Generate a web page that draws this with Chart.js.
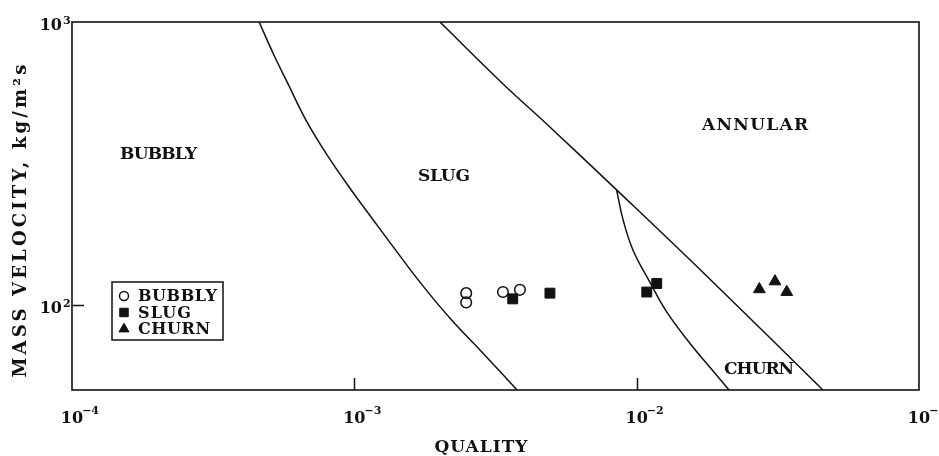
<!DOCTYPE html>
<html>
<head>
<meta charset="utf-8">
<script src="https://cdn.jsdelivr.net/npm/chart.js@4.4.1/dist/chart.umd.min.js"></script>
<style>
  html, body { margin: 0; padding: 0; background: #fff; }
  #chart { display: block; }
</style>
</head>
<body>
<canvas id="chart" width="939" height="456"></canvas>
<script>
// flow pattern map
var qualityTicks = [1e-4, 1e-3, 1e-2, 1e-1];
var qualityTickExp = ['-4', '-3', '-2', '-1'];
var velocityTicks = [1e2, 1e3];
var velocityTickExp = ['2', '3'];

// transition boundaries
var bubblySlugX = [4.6e-4, 5.15e-4, 5.8e-4, 6.74e-4, 7.93e-4, 9.58e-4, 1.165e-3, 1.422e-3, 1.758e-3, 2.219e-3, 2.834e-3, 3.77e-3];
var bubblySlugY = [1000, 777, 609, 450, 344, 261, 200, 153, 116, 88, 68, 50];
var slugAnnularX = [2.01e-3, 3.335e-3, 4.97e-3, 8.49e-3, 1.68e-2, 4.57e-2];
var slugAnnularY = [1000, 609, 422, 255, 133, 50];
var churnX = [8.49e-3, 8.95e-3, 9.71e-3, 1.115e-2, 1.281e-2, 1.546e-2, 1.82e-2, 2.125e-2];
var churnY = [255, 200, 156, 120, 94, 73, 60, 50];

// observed points
var bubblyQuality = [2.49e-3, 2.49e-3, 3.36e-3, 3.86e-3];
var bubblyVelocity = [110, 102, 111, 113];
var slugQuality = [3.64e-3, 4.93e-3, 1.086e-2, 1.178e-2];
var slugVelocity = [105, 110, 111, 119];
var churnQuality = [2.72e-2, 3.09e-2, 3.40e-2];
var churnVelocity = [113.5, 121, 111];

// region names and where they sit (quality, mass velocity)
var regionNames = ['BUBBLY', 'SLUG', 'ANNULAR', 'CHURN'];
var regionQuality = [1.48e-4, 1.68e-3, 1.705e-2, 2.04e-2];
var regionVelocity = [341, 284, 432, 58.9];

var legendNames = ['BUBBLY', 'SLUG', 'CHURN'];

function toPoints(xs, ys) {
    var pts = [];
    for (var i = 0; i < xs.length; i++) {
        pts.push({x: xs[i], y: ys[i]});
    }
    return pts;
}

var ink = '#111';
var labelFont = 'bold 17px "DejaVu Serif", serif';

function curve(xs, ys) {
    return {
        data: toPoints(xs, ys),
        showLine: true,
        borderColor: ink,
        borderWidth: 1.5,
        pointRadius: 0,
        tension: 0.4,
        fill: false,
        order: 3
    };
}

var markerSets = [
    {data: toPoints(bubblyQuality, bubblyVelocity), pointStyle: 'circle', pointRadius: 5.3,
     backgroundColor: 'rgba(0,0,0,0)', borderColor: ink, borderWidth: 1.5, order: 2},
    {data: toPoints(slugQuality, slugVelocity), pointStyle: 'rect', pointRadius: 7,
     backgroundColor: ink, borderColor: ink, borderWidth: 1, order: 1},
    {data: toPoints(churnQuality, churnVelocity), pointStyle: 'triangle', pointRadius: 6.8,
     backgroundColor: ink, borderColor: ink, borderWidth: 1, order: 1}
];

// text with letter spacing stretched to a given width
function spacedText(ctx, text, x, y, width, align) {
    ctx.letterSpacing = '0px';
    var w = ctx.measureText(text).width;
    var ls = (width - w) / Math.max(text.length - 1, 1);
    ctx.letterSpacing = ls + 'px';
    ctx.textAlign = 'left';
    var x0 = align === 'center' ? x - width / 2 : x;
    ctx.fillText(text, x0, y);
    ctx.letterSpacing = '0px';
}

var figureDecor = {
    id: 'figureDecor',
    afterDraw: function (chart) {
        var ctx = chart.ctx;
        var a = chart.chartArea;
        var xs = chart.scales.x, ys = chart.scales.y;
        var i, px, py;
        ctx.save();
        ctx.strokeStyle = ink;
        ctx.fillStyle = ink;
        ctx.lineWidth = 1.6;
        ctx.strokeRect(a.left, a.top, a.right - a.left, a.bottom - a.top);

        // inner tick marks
        ctx.lineWidth = 1.5;
        ctx.beginPath();
        for (i = 1; i < qualityTicks.length - 1; i++) {
            px = Math.round(xs.getPixelForValue(qualityTicks[i])) + 0.5;
            ctx.moveTo(px, a.bottom);
            ctx.lineTo(px, a.bottom - 12);
        }
        for (i = 0; i < velocityTicks.length - 1; i++) {
            py = Math.round(ys.getPixelForValue(velocityTicks[i])) + 0.5;
            ctx.moveTo(a.left, py);
            ctx.lineTo(a.left + 12, py);
        }
        ctx.stroke();

        // tick labels, 10 with a raised exponent
        ctx.textBaseline = 'alphabetic';
        for (i = 0; i < qualityTicks.length; i++) {
            px = xs.getPixelForValue(qualityTicks[i]);
            ctx.font = 'bold 16px "DejaVu Serif", serif';
            ctx.textAlign = 'center';
            ctx.fillText('10', px, a.bottom + 33);
            var hw = ctx.measureText('10').width / 2;
            ctx.font = 'bold 11px "DejaVu Serif", serif';
            ctx.textAlign = 'left';
            ctx.fillText(qualityTickExp[i].replace('-', '\u2212'), px + hw - 1, a.bottom + 24);
        }
        for (i = 0; i < velocityTicks.length; i++) {
            py = ys.getPixelForValue(velocityTicks[i]);
            ctx.font = 'bold 16px "DejaVu Serif", serif';
            ctx.textAlign = 'right';
            ctx.fillText('10', a.left - 10, py + 8);
            ctx.font = 'bold 11px "DejaVu Serif", serif';
            ctx.textAlign = 'left';
            ctx.fillText(velocityTickExp[i], a.left - 9, py + 2);
        }

        // axis titles
        ctx.font = 'bold 17px "DejaVu Serif", serif';
        ctx.textBaseline = 'middle';
        spacedText(ctx, 'QUALITY', 481, 448, 93, 'center');
        ctx.save();
        ctx.translate(21, 221);
        ctx.rotate(-Math.PI / 2);
        ctx.font = 'bold 18px "DejaVu Serif", serif';
        spacedText(ctx, 'MASS VELOCITY, kg/m\u00b2s', 0, 0, 313, 'center');
        ctx.restore();

        // region names
        var regionWidths = [77, 52, 106, 70];
        ctx.font = labelFont;
        for (i = 0; i < regionNames.length; i++) {
            spacedText(ctx, regionNames[i], xs.getPixelForValue(regionQuality[i]),
                ys.getPixelForValue(regionVelocity[i]), regionWidths[i], 'left');
        }

        // legend box
        var lx = a.left + 40, ly = a.top + 260;
        ctx.lineWidth = 1.5;
        ctx.strokeStyle = ink;
        ctx.strokeRect(lx, ly, 111, 58);
        var legendWidths = [79, 53, 72];
        for (i = 0; i < legendNames.length; i++) {
            var cy = ly + 14 + i * 16.5;
            var ds = markerSets[i];
            ctx.fillStyle = ds.backgroundColor;
            ctx.strokeStyle = ds.borderColor;
            ctx.lineWidth = ds.borderWidth;
            Chart.helpers.drawPoint(ctx, {
                pointStyle: ds.pointStyle,
                radius: ds.pointStyle === 'circle' ? 4.5 : ds.pointRadius - 1,
                borderWidth: ds.borderWidth,
                rotation: 0
            }, lx + 12, cy);
            ctx.fillStyle = ink;
            ctx.font = 'bold 16px "DejaVu Serif", serif';
            ctx.textBaseline = 'middle';
            spacedText(ctx, legendNames[i], lx + 26, cy + 1, legendWidths[i], 'left');
        }
        ctx.restore();
    }
};

var ctx = document.getElementById('chart');
var chart = new Chart(ctx, {
    type: 'scatter',
    data: {
        datasets: [
            curve(bubblySlugX, bubblySlugY),
            curve(slugAnnularX, slugAnnularY),
            curve(churnX, churnY)
        ].concat(markerSets)
    },
    options: {
        responsive: false,
        animation: false,
        devicePixelRatio: 1,
        layout: {padding: {left: 72, right: 20, top: 22, bottom: 66}},
        plugins: {legend: {display: false}, tooltip: {enabled: false}},
        scales: {
            x: {type: 'logarithmic', min: 1e-4, max: 1e-1, display: false},
            y: {type: 'logarithmic', min: 50, max: 1000, display: false}
        }
    },
    plugins: [figureDecor]
});
</script>
</body>
</html>
